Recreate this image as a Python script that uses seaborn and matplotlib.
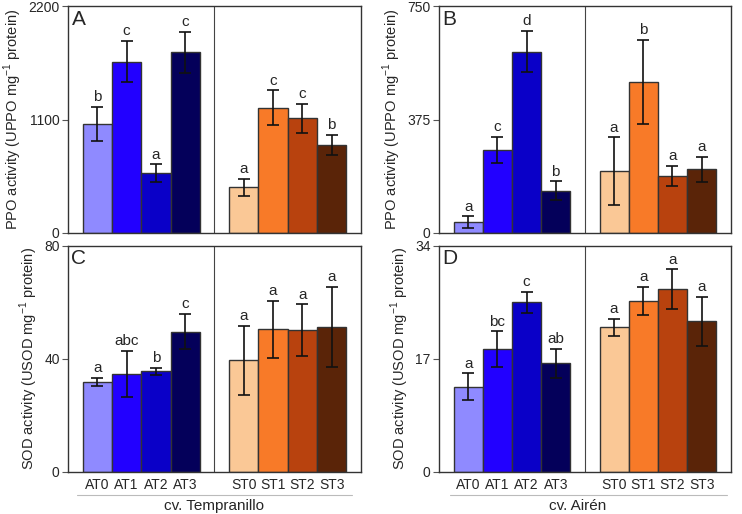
import matplotlib
matplotlib.use("Agg")
import matplotlib.pyplot as plt
from matplotlib.lines import Line2D
import seaborn as sns
import pandas as pd

sns.set_style("white")
plt.rcParams['font.family'] = ['Liberation Sans', 'DejaVu Sans']

groups = ['AT0', 'AT1', 'AT2', 'AT3', 'ST0', 'ST1', 'ST2', 'ST3']
bar_pos = [1, 2, 3, 4, 6, 7, 8, 9]
colors = ['#8f8aff', '#2200ff', '#0a00c8', '#04005a',
          '#fac896', '#f87a28', '#b8420e', '#5a2408']

# panel A: PPO, cv. Tempranillo
ppo_temp = [1058, 1661, 581, 1752, 442, 1216, 1113, 852]
ppo_temp_err = [165, 200, 85, 200, 85, 168, 140, 97]
ppo_temp_let = ['b', 'c', 'a', 'c', 'a', 'c', 'c', 'b']

# panel B: PPO, cv. Airén
ppo_airen = [36, 276, 600, 140, 205, 500, 189, 210]
ppo_airen_err = [19, 43, 68, 31, 111, 138, 34, 41]
ppo_airen_let = ['a', 'c', 'd', 'b', 'a', 'b', 'a', 'a']

# panel C: SOD, cv. Tempranillo
sod_temp = [31.9, 34.6, 35.5, 49.6, 39.4, 50.4, 50.0, 51.1]
sod_temp_err = [1.4, 8.3, 1.3, 6.2, 12.3, 10.0, 9.2, 14.2]
sod_temp_let = ['a', 'abc', 'b', 'c', 'a', 'a', 'a', 'a']

# panel D: SOD, cv. Airén
sod_airen = [12.8, 18.4, 25.5, 16.3, 21.7, 25.7, 27.45, 22.6]
sod_airen_err = [2.0, 2.7, 1.6, 2.2, 1.3, 2.1, 3.0, 3.7]
sod_airen_let = ['a', 'bc', 'c', 'ab', 'a', 'a', 'a', 'a']

ppo_label = r'PPO activity (UPPO mg$^{\mathregular{-1}}$ protein)'
sod_label = r'SOD activity (USOD mg$^{\mathregular{-1}}$ protein)'

fig = plt.figure(figsize=(7.42, 5.14), dpi=100)
rects = {
    'A': [0.0916, 0.5467, 0.3949, 0.4413],
    'B': [0.5916, 0.5467, 0.3934, 0.4413],
    'C': [0.0916, 0.0823, 0.3949, 0.4397],
    'D': [0.5916, 0.0823, 0.3934, 0.4397],
}
panels = [
    ('A', ppo_temp, ppo_temp_err, ppo_temp_let, 2200, ppo_label, False),
    ('B', ppo_airen, ppo_airen_err, ppo_airen_let, 750, ppo_label, False),
    ('C', sod_temp, sod_temp_err, sod_temp_let, 80, sod_label, True),
    ('D', sod_airen, sod_airen_err, sod_airen_let, 34, sod_label, True),
]

for name, vals, errs, lets, ymax, ylab, bottom in panels:
    ax = fig.add_axes(rects[name])
    df = pd.DataFrame({'pos': bar_pos, 'grp': groups, 'val': vals})
    sns.barplot(data=df, x='pos', y='val', hue='grp', palette=dict(zip(groups, colors)),
                native_scale=True, width=1, dodge=False, legend=False, saturation=1,
                edgecolor='#333333', linewidth=1, errorbar=None, ax=ax)
    ax.errorbar(bar_pos, vals, yerr=errs, fmt='none', ecolor='#111111',
                elinewidth=1.2, capsize=4.5, capthick=1.2)
    for x, v, e, t in zip(bar_pos, vals, errs, lets):
        ax.annotate(t, (x, v + e), xytext=(0, 2), textcoords='offset points',
                    ha='center', va='bottom', fontsize=11)
    ax.axvline(5, color='#444444', lw=0.8)
    ax.set_xlim(0, 10)
    ax.set_ylim(0, ymax)
    ax.set_yticks([0, ymax / 2, ymax])
    ax.set_yticklabels(['0', f'{ymax / 2:g}', f'{ymax:g}'], fontsize=10)
    ax.tick_params(axis='y', left=True, length=4, width=0.8, pad=2, color='#555555')
    ax.set_ylabel(ylab, fontsize=10.5, labelpad=3)
    ax.set_xlabel('')
    if bottom:
        ax.set_xticks(bar_pos)
        ax.set_xticklabels(groups, fontsize=10)
        ax.tick_params(axis='x', bottom=False, pad=1)
    else:
        ax.set_xticks([])
    for sp in ax.spines.values():
        sp.set_color('#333333')
        sp.set_linewidth(1)
    ax.text(0.012, 0.985, name, transform=ax.transAxes, ha='left', va='top', fontsize=15)

fig.add_artist(Line2D([0.104, 0.474], [0.037, 0.037], color='#bbbbbb', lw=0.8))
fig.add_artist(Line2D([0.606, 0.980], [0.037, 0.037], color='#bbbbbb', lw=0.8))
fig.text(0.289, 0.015, 'cv. Tempranillo', ha='center', va='center', fontsize=11)
fig.text(0.778, 0.015, 'cv. Airén', ha='center', va='center', fontsize=11)

fig.savefig('out.png', dpi=100)
